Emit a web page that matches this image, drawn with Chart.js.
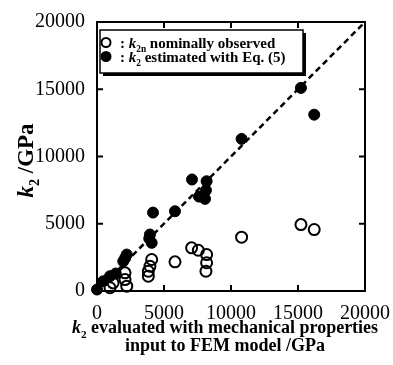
<!DOCTYPE html>
<html>
<head>
<meta charset="utf-8">
<script src="https://cdn.jsdelivr.net/npm/chart.js@4.4.1/dist/chart.umd.min.js"></script>
<style>
  html, body { margin: 0; padding: 0; background: #fff; }
  #wrap { width: 393px; height: 365px; position: relative; }
</style>
</head>
<body>
<div id="wrap"><canvas id="c" width="393" height="365"></canvas></div>
<script>
// Axis ticks (GPa)
const axisTicks = [0, 5000, 10000, 15000, 20000];

// k2n nominally observed: x = FEM input k2, y = observed k2n
const femOpen = [970, 1200, 2090, 2090, 2220, 3830, 3830, 3950, 4080, 5820, 7060, 7560, 8180, 8180, 8130, 10790, 15220, 16210];
const observedK2n = [240, 600, 850, 1350, 360, 1100, 1470, 1840, 2340, 2170, 3210, 3030, 2710, 2100, 1470, 4000, 4940, 4570];

// k2 estimated with Eq. (5): x = FEM input k2, y = estimated k2
const femFilled = [0, 470, 970, 1400, 1960, 2220, 2100, 3950, 4080, 3900, 4180, 5820, 7090, 7610, 8060, 8130, 8180, 10790, 15220, 16210];
const estimatedK2 = [110, 730, 1100, 1300, 2210, 2710, 2450, 4200, 3580, 3900, 5830, 5930, 8290, 7020, 6850, 7490, 8160, 11310, 15100, 13110];

// y = x reference line
const diagonal = [0, 20000];

const toPoints = (xs, ys) => xs.map((x, i) => ({ x, y: ys[i] }));

const SERIF = "'Liberation Serif', 'DejaVu Serif', serif";

// Draw a run of text pieces; each piece may be italic/subscript
function drawRich(ctx, pieces, x, y, size, align) {
  const fontFor = p => {
    const s = p.sub ? size * 0.62 : size;
    return (p.italic ? 'italic ' : '') + 'bold ' + s + 'px ' + SERIF;
  };
  let total = 0;
  pieces.forEach(p => { ctx.font = fontFor(p); total += ctx.measureText(p.t).width; });
  let cx = align === 'center' ? x - total / 2 : x;
  ctx.textBaseline = 'alphabetic';
  ctx.textAlign = 'left';
  pieces.forEach(p => {
    ctx.font = fontFor(p);
    ctx.fillText(p.t, cx, y + (p.sub ? size * 0.28 : 0));
    cx += ctx.measureText(p.t).width;
  });
  return total;
}

// Box frame with inward tick marks on all four sides
const framePlugin = {
  id: 'frame',
  afterDatasetsDraw(chart) {
    const { ctx, chartArea: a, scales } = chart;
    ctx.save();
    ctx.strokeStyle = '#000';
    ctx.lineWidth = 2;
    ctx.strokeRect(a.left, a.top, a.right - a.left, a.bottom - a.top);
    const len = 6;
    ctx.beginPath();
    axisTicks.forEach(v => {
      const px = scales.x.getPixelForValue(v);
      const py = scales.y.getPixelForValue(v);
      ctx.moveTo(px, a.bottom); ctx.lineTo(px, a.bottom - len);
      ctx.moveTo(px, a.top); ctx.lineTo(px, a.top + len);
      ctx.moveTo(a.left, py); ctx.lineTo(a.left + len, py);
      ctx.moveTo(a.right, py); ctx.lineTo(a.right - len, py);
    });
    ctx.stroke();
    ctx.restore();
  }
};

// Legend box with drop shadow
const legendPlugin = {
  id: 'boxLegend',
  afterDatasetsDraw(chart) {
    const { ctx, chartArea: a } = chart;
    const x0 = a.left + 3, y0 = a.top + 8, w = 203, h = 43;
    ctx.save();
    ctx.fillStyle = '#000';
    ctx.fillRect(x0 + 3, y0 + 3, w, h);
    ctx.fillStyle = '#fff';
    ctx.fillRect(x0, y0, w, h);
    ctx.strokeStyle = '#000';
    ctx.lineWidth = 1.5;
    ctx.strokeRect(x0, y0, w, h);

    const rows = [
      { ds: chart.data.datasets[1], pieces: [{ t: ': ' }, { t: 'k', italic: true }, { t: '2n', sub: true }, { t: ' nominally observed' }] },
      { ds: chart.data.datasets[2], pieces: [{ t: ': ' }, { t: 'k', italic: true }, { t: '2', sub: true }, { t: ' estimated with Eq. (5)' }] }
    ];
    rows.forEach((r, i) => {
      const cy = y0 + 12.5 + i * 14;
      ctx.beginPath();
      ctx.arc(x0 + 6, cy, 4.5, 0, Math.PI * 2);
      ctx.lineWidth = 2;
      ctx.strokeStyle = '#000';
      if (r.ds.backgroundColor !== 'rgba(0,0,0,0)') { ctx.fillStyle = '#000'; ctx.fill(); }
      ctx.stroke();
      ctx.fillStyle = '#000';
      drawRich(ctx, r.pieces, x0 + 20, cy + 5, 15, 'left');
    });
    ctx.restore();
  }
};

// Axis titles
const titlesPlugin = {
  id: 'axisTitles',
  afterDraw(chart) {
    const { ctx, chartArea: a } = chart;
    ctx.save();
    ctx.fillStyle = '#000';
    const cx = (a.left + a.right) / 2 - 6;
    drawRich(ctx, [{ t: 'k', italic: true }, { t: '2', sub: true }, { t: ' evaluated with mechanical properties' }], cx, 333, 18, 'center');
    drawRich(ctx, [{ t: 'input to FEM model /GPa' }], cx, 351, 18, 'center');
    ctx.translate(33, (a.top + a.bottom) / 2 + 4);
    ctx.rotate(-Math.PI / 2);
    drawRich(ctx, [{ t: 'k', italic: true }, { t: '2', sub: true }, { t: ' /GPa' }], 0, 0, 23, 'center');
    ctx.restore();
  }
};

const tickFont = { family: SERIF, size: 20 };

new Chart(document.getElementById('c'), {
  type: 'scatter',
  data: {
    datasets: [
      {
        type: 'line',
        data: toPoints(diagonal, diagonal),
        borderColor: '#000',
        borderWidth: 2.5,
        borderDash: [6, 4],
        pointRadius: 0,
        fill: false,
        order: 3
      },
      {
        label: 'k2n nominally observed',
        data: toPoints(femOpen, observedK2n),
        pointRadius: 5.5,
        pointBorderWidth: 2,
        borderColor: '#000',
        backgroundColor: 'rgba(0,0,0,0)',
        order: 1
      },
      {
        label: 'k2 estimated with Eq. (5)',
        data: toPoints(femFilled, estimatedK2),
        pointRadius: 5.5,
        pointBorderWidth: 1,
        borderColor: '#000',
        backgroundColor: '#000',
        order: 2
      }
    ]
  },
  options: {
    responsive: false,
    animation: false,
    clip: false,
    layout: { padding: { top: 22, right: 28, left: 0, bottom: 0 } },
    plugins: { legend: { display: false }, tooltip: { enabled: false } },
    scales: {
      x: {
        type: 'linear', min: 0, max: 20000,
        afterBuildTicks: s => { s.ticks = axisTicks.map(v => ({ value: v })); },
        afterFit: s => { s.height = 74; },
        grid: { display: false },
        border: { display: false },
        ticks: { font: tickFont, color: '#000', padding: 3, maxRotation: 0, callback: v => String(v) }
      },
      y: {
        type: 'linear', min: 0, max: 20000,
        afterBuildTicks: s => { s.ticks = axisTicks.map(v => ({ value: v })); },
        afterFit: s => { s.width = 97; },
        grid: { display: false },
        border: { display: false },
        ticks: { font: tickFont, color: '#000', padding: 4, callback: v => String(v) }
      }
    }
  },
  plugins: [framePlugin, legendPlugin, titlesPlugin]
});
</script>
</body>
</html>
